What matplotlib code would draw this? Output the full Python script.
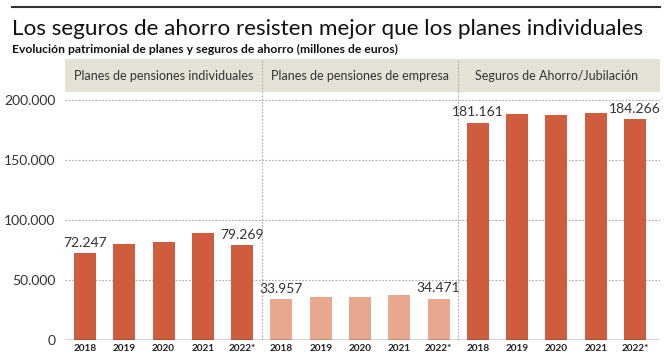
import matplotlib.pyplot as plt
from matplotlib.patches import Rectangle
import numpy as np

plt.rcParams['font.family'] = ['Lato', 'DejaVu Sans']

# data (millones de euros)
groups = ['Planes de pensiones individuales', 'Planes de pensiones de empresa',
          'Seguros de Ahorro/Jubilación']
years = ['2018', '2019', '2020', '2021', '2022*']
individuales = [72247, 79700, 81700, 89200, 79269]
empresa = [33957, 35800, 35500, 37500, 34471]
seguros = [181161, 188300, 187700, 189000, 184266]

dark = '#d05c3e'
light = '#e8a88e'
band_col = '#e4e2d4'

fig = plt.figure(figsize=(6.64, 3.6), dpi=100)
W, H = 664, 360
ax = fig.add_axes([65 / W, 20 / H, 595 / W, 248 / H])

series = [individuales, empresa, seguros]
colours = [dark, light, dark]
for g, (vals, col) in enumerate(zip(series, colours)):
    xs = np.arange(5) + g * 5
    ax.bar(xs, vals, width=0.56, color=col, zorder=3)
    # first and last value labels
    for i in (0, 4):
        ax.annotate('{:,}'.format(vals[i]).replace(',', '.'), (xs[i], vals[i]),
                    textcoords='offset points', xytext=(0, 3), ha='center',
                    va='bottom', fontsize=10, color='#333333', zorder=4)

ax.set_xlim(-0.509, 14.636)
ax.set_ylim(0, 206700)
ax.set_yticks([0, 50000, 100000, 150000, 200000])
ax.set_yticklabels(['0', '50.000', '100.000', '150.000', '200.000'],
                   fontsize=10, color='#333333')
ax.set_xticks(np.arange(15))
ax.set_xticklabels(years * 3, fontsize=7.2, fontweight='bold', color='#222222')
ax.tick_params(axis='both', length=0, pad=3)
ax.tick_params(axis='y', pad=7)

for y in [50000, 100000, 150000, 200000]:
    ax.axhline(y, color='#aaaaaa', lw=0.8, ls=(0, (1.5, 1.5)), zorder=1)
ax.axhline(0, color='#333333', lw=1.0, zorder=5)
for s in ax.spines.values():
    s.set_visible(False)

# header band with group names
band = fig.add_axes([65 / W, 268 / H, 595 / W, 33 / H])
band.set_xlim(-0.509, 14.636)
band.set_ylim(0, 1)
band.axis('off')
band.add_patch(Rectangle((-0.509, 0), 15.145, 1, color=band_col, zorder=0))
for g, name in enumerate(groups):
    band.text(g * 5 + 2, 0.5, name, ha='center', va='center', fontsize=9,
              color='#333333')

# dotted separators through band and plot
for xsep in (4.5, 9.5):
    ax.axvline(xsep, color='#aaaaaa', lw=0.8, ls=(0, (1.5, 1.5)), zorder=2)
    band.axvline(xsep, color='#aaaaaa', lw=0.8, ls=(0, (1.5, 1.5)))

# title block
fig.add_artist(plt.Line2D([12 / W, 660 / W], [1 - 7 / H, 1 - 7 / H],
                          color='#333333', lw=1.5))
fig.text(12 / W, 1 - 29 / H, 'Los seguros de ahorro resisten mejor que los planes individuales',
         fontsize=16.2, va='center', ha='left', color='#111111')
fig.text(12 / W, 1 - 49 / H, 'Evolución patrimonial de planes y seguros de ahorro (millones de euros)',
         fontsize=8.7, fontweight='bold', va='center', ha='left', color='#111111')

fig.savefig('out.png', dpi=100)
